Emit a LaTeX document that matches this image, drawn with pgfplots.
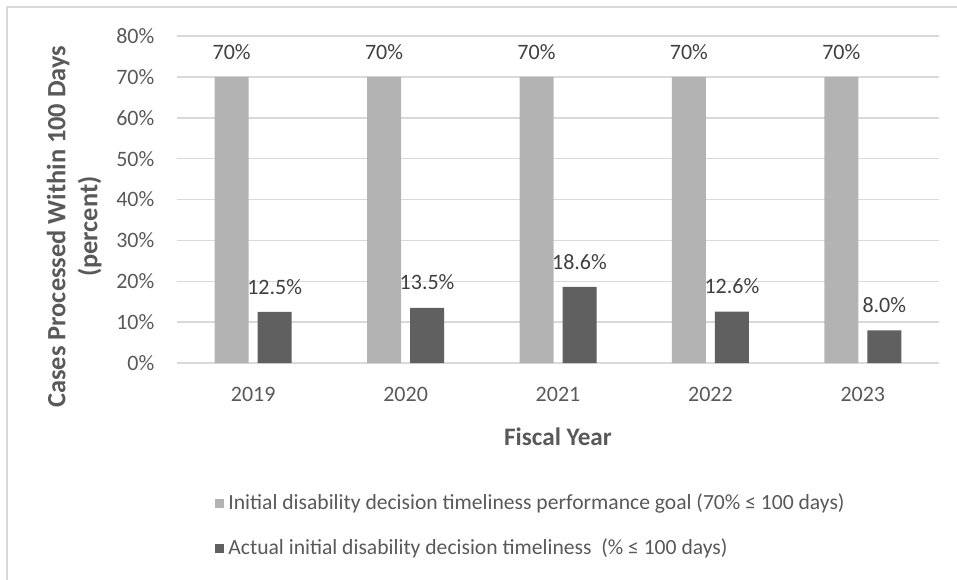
\documentclass[border=0pt]{standalone}
\usepackage{pgfplots}
\pgfplotsset{compat=1.18}
\usepackage{fontspec}
\setmainfont{Carlito}
\definecolor{goalgray}{RGB}{179,179,179}
\definecolor{actgray}{RGB}{96,96,96}
\definecolor{gridgray}{RGB}{217,217,217}
\definecolor{ticktext}{RGB}{89,89,89}
\definecolor{labeltext}{RGB}{64,64,64}
\pgfplotstableread{
x goal actual
0 70 12.5
1 70 13.5
2 70 18.6
3 70 12.6
4 70 8.0
}\datatable
\begin{document}
\begin{tikzpicture}
\useasboundingbox (-88.5pt,-108pt) rectangle (390pt,181.5pt);
\draw[gridgray,line width=0.75pt] (-85pt,-112pt) -- (-85pt,178pt) -- (395pt,178pt);
\begin{axis}[
  at={(0,0)}, anchor=south west,
  scale only axis,
  width=381pt, height=163.5pt,
  ybar=4.5pt, bar width=17pt,
  xmin=-0.5, xmax=4.5,
  ymin=0, ymax=80,
  ytick={0,10,...,80},
  yticklabel={\pgfmathprintnumber{\tick}\%},
  xtick={0,1,2,3,4},
  xticklabels={2019,2020,2021,2022,2023},
  axis line style={draw=none},
  major tick length=0pt,
  ymajorgrids,
  grid style={gridgray,line width=0.75pt},
  tick label style={font=\fontsize{11}{13}\selectfont, text=ticktext},
  /pgf/number format/assume math mode=true,
  xticklabel style={yshift=-8.8pt},
  yticklabel style={xshift=-7.8pt},
  xlabel={Fiscal Year},
  ylabel={Cases Processed Within 100 Days\\(percent)},
  xlabel style={font=\bfseries\fontsize{12.6}{15}\selectfont, text=ticktext,
    at={(axis description cs:0.5,-0.226)}, anchor=center},
  ylabel style={font=\bfseries\fontsize{13.2}{16}\selectfont, text=ticktext,
    at={(axis description cs:-0.135,0.417)}, anchor=center, align=center},
  nodes near coords style={font=\fontsize{11}{13}\selectfont, text=labeltext, anchor=south, yshift=5.3pt},
  legend style={at={(axis description cs:0.042,-0.375)}, anchor=north west, draw=none,
    font=\fontsize{10.8}{13}\selectfont, text=ticktext, row sep=9pt, cells={anchor=west}},
  legend cell align=left,
  legend image code/.code={\fill[#1] (0pt,-2.25pt) rectangle (4.5pt,2.25pt);},
]
\addplot[fill=goalgray, draw=none,
  nodes near coords={\pgfmathprintnumber[fixed,precision=0]{\pgfplotspointmeta}\%}]
  table[x=x,y=goal]{\datatable};
\addlegendentry{Initial disability decision timeliness performance goal (70\% ≤ 100 days)}
\addplot[fill=actgray, draw=none,
  nodes near coords={\pgfmathprintnumber[fixed,precision=1,fixed zerofill]{\pgfplotspointmeta}\%}]
  table[x=x,y=actual]{\datatable};
\addlegendentry{Actual initial disability decision timeliness\ \ (\% ≤ 100 days)}
\end{axis}
\end{tikzpicture}
\end{document}
